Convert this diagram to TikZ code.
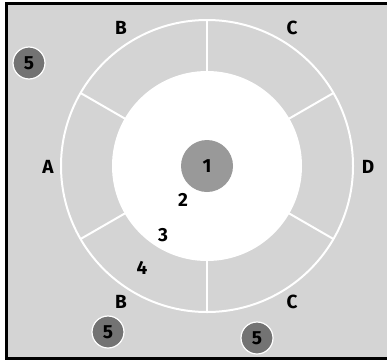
\documentclass[tikz,border=0pt]{standalone}
\usepackage{fontspec}
\setmainfont{Fira Sans}
\usetikzlibrary{calc}
\begin{document}
\begin{tikzpicture}[x=1pt,y=-1pt,
  lbl/.style={font=\fontsize{19}{19}\selectfont\bfseries, text=black, inner sep=0pt},
  bigdot/.style={circle, fill=black!40, minimum size=52pt, inner sep=0pt},
  smalldot/.style={circle, fill=black!55, draw=white, line width=1.2pt, minimum size=32pt, inner sep=0pt},
  ring/.style={draw=white, line width=2pt}]
\useasboundingbox (0,0) rectangle (387,362);
\fill[white] (0,0) rectangle (387,362);
\fill[black!17] (6,3) rectangle (387,358);
\draw[black, line width=3pt] (387,3) -- (6,3) -- (6,358) -- (387,358);
\coordinate (O) at (207,166);
% outer ring
\draw[ring] (O) circle (146);
% spokes
\foreach \a in {90,30,-30,-90,210,150}{
  \draw[ring] ($(O)+(\a:94)$) -- ($(O)+(\a:146)$);
}
% inner white disk
\fill[white] (O) circle (95);
% centre dot
\node[bigdot] (one) at (O) {};
\node[lbl] at (O) {1};
% labels
\node[lbl] (n2) at (183,200) {2};
\node[lbl] (n3) at (163,235) {3};
\node[lbl] (n4) at (142,268) {4};
\node[lbl] (Btop) at (121,28) {B};
\node[lbl] (Ctop) at (292,28) {C};
\node[lbl] (A) at (48,167) {A};
\node[lbl] (D) at (368,167) {D};
\node[lbl] (Bbot) at (121,302) {B};
\node[lbl] (Cbot) at (292,302) {C};
% outer dots
\node[smalldot] (f1) at (29,63) {};
\node[lbl] at (f1) {5};
\node[smalldot] (f2) at (108,332) {};
\node[lbl] at (f2) {5};
\node[smalldot] (f3) at (257,338) {};
\node[lbl] at (f3) {5};
\end{tikzpicture}
\end{document}
